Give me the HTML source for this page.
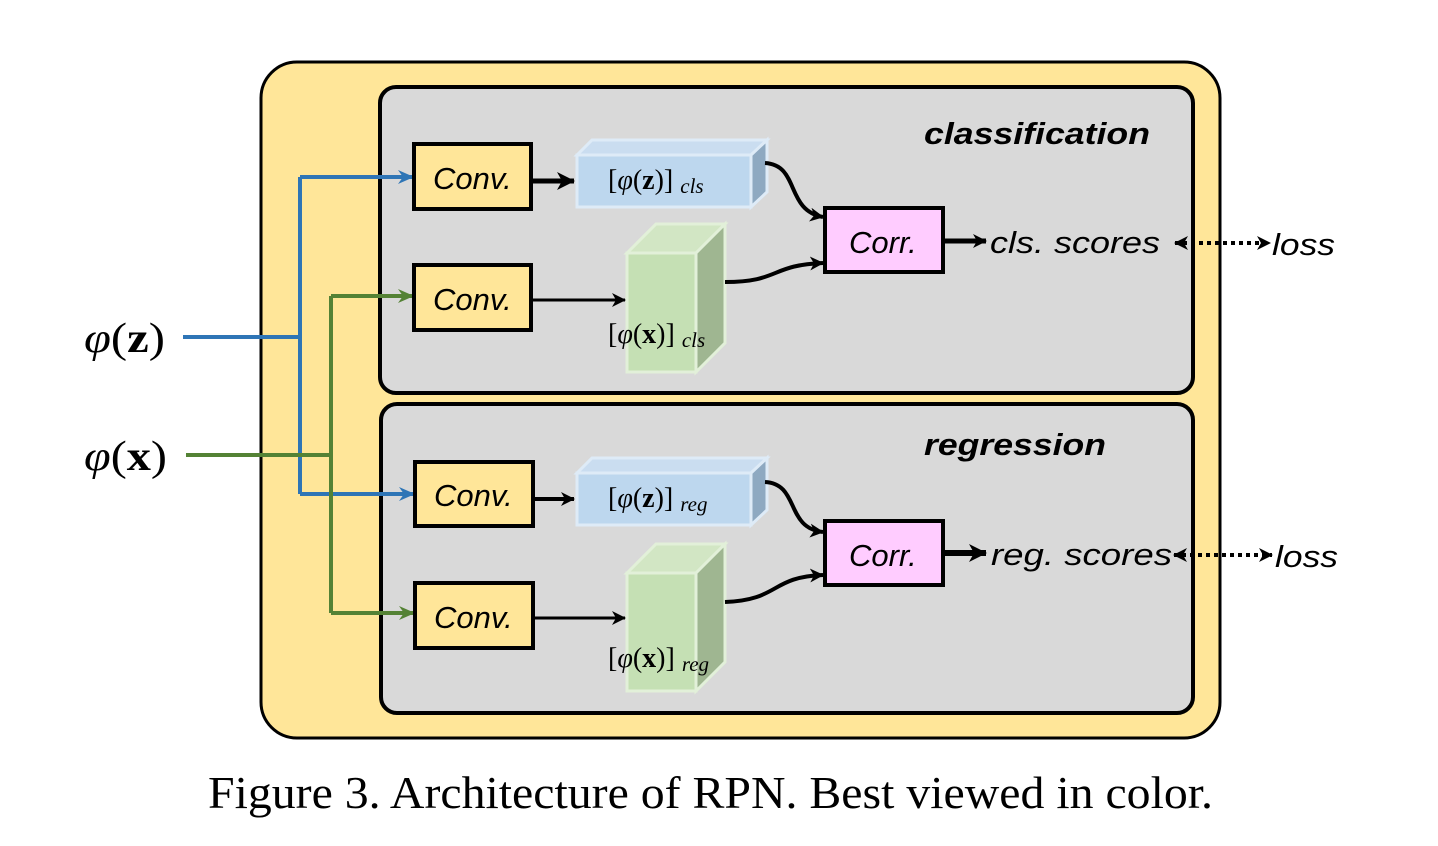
<!DOCTYPE html>
<html><head><meta charset="utf-8"><style>
html,body{margin:0;padding:0;background:#fff;width:1438px;height:846px;overflow:hidden}
svg{display:block}
.cv{font-family:"Liberation Sans",sans-serif;font-style:italic;font-size:31px;fill:#000}
.m{font-family:"Liberation Serif",serif;fill:#000}
</style></head><body>
<svg width="1438" height="846" viewBox="0 0 1438 846" xmlns="http://www.w3.org/2000/svg">
<defs>
<marker id="ab" markerWidth="16" markerHeight="14" refX="15" refY="7" orient="auto" markerUnits="userSpaceOnUse"><path d="M0,0 L16,7 L0,14 L5,7 z" fill="#2E75B6"/></marker>
<marker id="ag" markerWidth="16" markerHeight="14" refX="15" refY="7" orient="auto" markerUnits="userSpaceOnUse"><path d="M0,0 L16,7 L0,14 L5,7 z" fill="#548235"/></marker>
<marker id="ak" markerWidth="18" markerHeight="18" refX="17" refY="9" orient="auto" markerUnits="userSpaceOnUse"><path d="M0,0 L18,9 L0,18 L5,9 z" fill="#000"/></marker>
<marker id="as" markerWidth="14" markerHeight="14" refX="13" refY="7" orient="auto" markerUnits="userSpaceOnUse"><path d="M0,0 L14,7 L0,14 L4,7 z" fill="#000"/></marker>
<marker id="asr" markerWidth="14" markerHeight="14" refX="1" refY="7" orient="auto" markerUnits="userSpaceOnUse"><path d="M14,0 L0,7 L14,14 L10,7 z" fill="#000"/></marker>
</defs>
<rect x="261" y="62" width="959" height="676" rx="36" fill="#FFE699" stroke="#000" stroke-width="3"/>
<rect x="380" y="87" width="813" height="306" rx="16" fill="#D9D9D9" stroke="#000" stroke-width="4"/>
<rect x="381" y="404" width="812" height="309" rx="16" fill="#D9D9D9" stroke="#000" stroke-width="4"/>

<text x="84" y="352" class="m" font-size="42" textLength="81" lengthAdjust="spacingAndGlyphs"><tspan font-style="italic">φ</tspan>(<tspan font-weight="bold">z</tspan>)</text>
<text x="84" y="470" class="m" font-size="42" textLength="83" lengthAdjust="spacingAndGlyphs"><tspan font-style="italic">φ</tspan>(<tspan font-weight="bold">x</tspan>)</text>
<g fill="none" stroke-width="4">
<path d="M183,337 H300 M300,177 V494" stroke="#2E75B6"/>
<path d="M300,177 H413" stroke="#2E75B6" marker-end="url(#ab)"/>
<path d="M300,494 H414" stroke="#2E75B6" marker-end="url(#ab)"/>
<path d="M186,455 H331 M331,296 V613" stroke="#548235"/>
<path d="M331,296 H413" stroke="#548235" marker-end="url(#ag)"/>
<path d="M331,613 H414" stroke="#548235" marker-end="url(#ag)"/>
</g>

<g fill="#FFE699" stroke="#000" stroke-width="4">
<rect x="414" y="144" width="117" height="65"/>
<rect x="414" y="265" width="117" height="65"/>
<rect x="415" y="462" width="118" height="64"/>
<rect x="415" y="583" width="118" height="65"/>
</g>
<text x="433" y="189" class="cv">Conv.</text>
<text x="433" y="310" class="cv">Conv.</text>
<text x="434" y="506" class="cv">Conv.</text>
<text x="434" y="628" class="cv">Conv.</text>

<g stroke="#DEEBF7" stroke-width="3">
<polygon points="577,155 592,140 767,140 751,155" fill="#CADDF0"/>
<polygon points="751,155 767,140 767,192 751,207" fill="#8EA9C1"/>
<rect x="577" y="155" width="174" height="52" fill="#BDD7EE"/>
<polygon points="577,473 592,458 767,458 751,473" fill="#CADDF0"/>
<polygon points="751,473 767,458 767,510 751,525" fill="#8EA9C1"/>
<rect x="577" y="473" width="174" height="52" fill="#BDD7EE"/>
</g>
<text x="608" y="189" class="m" font-size="28">[<tspan font-style="italic">φ</tspan>(<tspan font-weight="bold">z</tspan>)] <tspan font-style="italic" font-size="21" dy="4">cls</tspan></text>
<text x="608" y="507" class="m" font-size="28">[<tspan font-style="italic">φ</tspan>(<tspan font-weight="bold">z</tspan>)] <tspan font-style="italic" font-size="21" dy="4">reg</tspan></text>

<g stroke="#E2F0D9" stroke-width="3">
<polygon points="627,253 656,224 725,224 696,253" fill="#D2E6C4"/>
<polygon points="696,253 725,224 725,343 696,372" fill="#9FB691"/>
<rect x="627" y="253" width="69" height="119" fill="#C5E0B4"/>
<polygon points="627,573 656,544 725,544 696,573" fill="#D2E6C4"/>
<polygon points="696,573 725,544 725,662 696,691" fill="#9FB691"/>
<rect x="627" y="573" width="69" height="118" fill="#C5E0B4"/>
</g>
<text x="608" y="343" class="m" font-size="28">[<tspan font-style="italic">φ</tspan>(<tspan font-weight="bold">x</tspan>)] <tspan font-style="italic" font-size="21" dy="4">cls</tspan></text>
<text x="608" y="667" class="m" font-size="28">[<tspan font-style="italic">φ</tspan>(<tspan font-weight="bold">x</tspan>)] <tspan font-style="italic" font-size="21" dy="4">reg</tspan></text>

<g fill="none" stroke="#000">
<path d="M531,181 H574" stroke-width="5" marker-end="url(#ak)"/>
<path d="M531,300 H625" stroke-width="3" marker-end="url(#as)"/>
<path d="M533,499 H574" stroke-width="4" marker-end="url(#as)"/>
<path d="M533,618 H625" stroke-width="3" marker-end="url(#as)"/>
<path d="M765,163 C800,165 785,210 823,217" stroke-width="4" marker-end="url(#as)"/>
<path d="M725,282 C780,282 770,265 823,263" stroke-width="4" marker-end="url(#as)"/>
<path d="M765,482 C800,484 785,528 823,532" stroke-width="4" marker-end="url(#as)"/>
<path d="M725,602 C780,600 770,577 823,575" stroke-width="4" marker-end="url(#as)"/>
<path d="M943,241 H986" stroke-width="5" marker-end="url(#as)"/>
<path d="M943,553 H986" stroke-width="6" marker-end="url(#ak)"/>
<path d="M1175,243 H1270" stroke-width="4" stroke-dasharray="4,4" marker-start="url(#asr)" marker-end="url(#as)"/>
<path d="M1174,555 H1272" stroke-width="4" stroke-dasharray="4,4" marker-start="url(#asr)" marker-end="url(#as)"/>
</g>

<g fill="#FFCCFF" stroke="#000" stroke-width="4">
<rect x="825" y="208" width="118" height="64"/>
<rect x="825" y="521" width="118" height="64"/>
</g>
<text x="849" y="253" class="cv">Corr.</text>
<text x="849" y="566" class="cv">Corr.</text>

<text x="990" y="253" class="cv" font-size="36" textLength="170" lengthAdjust="spacingAndGlyphs">cls. scores</text>
<text x="991" y="565" class="cv" font-size="36" textLength="181" lengthAdjust="spacingAndGlyphs">reg. scores</text>
<text x="1272" y="255" class="cv" font-size="36" textLength="63" lengthAdjust="spacingAndGlyphs">loss</text>
<text x="1275" y="567" class="cv" font-size="36" textLength="63" lengthAdjust="spacingAndGlyphs">loss</text>
<text x="924" y="144" class="cv" font-size="35" font-weight="bold" textLength="226" lengthAdjust="spacingAndGlyphs">classification</text>
<text x="924" y="455" class="cv" font-size="35" font-weight="bold" textLength="182" lengthAdjust="spacingAndGlyphs">regression</text>

<text x="208" y="808" class="m" font-size="46" textLength="1005" lengthAdjust="spacingAndGlyphs">Figure 3. Architecture of RPN. Best viewed in color.</text>
</svg>
</body></html>
